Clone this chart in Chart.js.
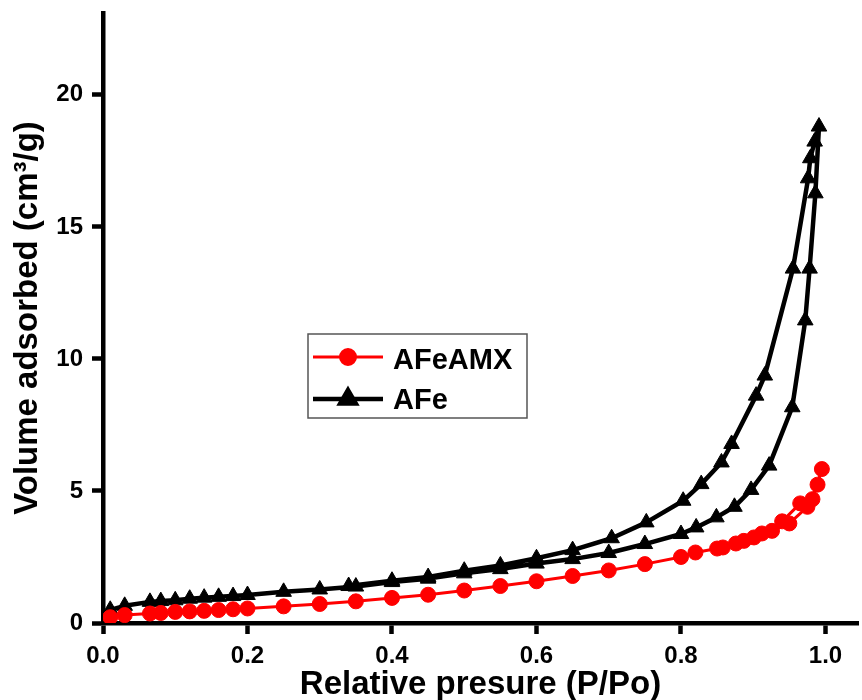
<!DOCTYPE html>
<html>
<head>
<meta charset="utf-8">
<script src="https://cdn.jsdelivr.net/npm/chart.js@4.4.1/dist/chart.umd.min.js"></script>
<style>
html,body{margin:0;padding:0;background:#ffffff;}
#wrap{width:862px;height:700px;position:relative;}
</style>
</head>
<body>
<div id="wrap"><canvas id="c" width="862" height="700"></canvas></div>
<script>
// ---- data ----
const seriesNames = ['AFeAMX', 'AFe'];

// AFeAMX: adsorption branch then desorption branch
const afeamxX = [0.01, 0.03, 0.065, 0.08, 0.10, 0.12, 0.14, 0.16, 0.18, 0.20, 0.25, 0.30, 0.35, 0.40, 0.45, 0.50, 0.55, 0.60, 0.65, 0.70, 0.75, 0.80, 0.82, 0.85, 0.876, 0.901, 0.926, 0.95, 0.975, 0.989, 0.995,
                 0.982, 0.965, 0.94, 0.912, 0.887, 0.858];
const afeamxY = [0.22, 0.30, 0.36, 0.38, 0.42, 0.44, 0.46, 0.49, 0.52, 0.55, 0.63, 0.72, 0.82, 0.95, 1.07, 1.23, 1.40, 1.58, 1.78, 1.99, 2.23, 2.50, 2.67, 2.82, 3.01, 3.24, 3.49, 3.77, 4.40, 5.24, 5.83,
                 4.69, 4.53, 3.85, 3.39, 3.11, 2.86];

// AFe: adsorption branch then desorption branch
const afeX = [0.01, 0.03, 0.065, 0.08, 0.10, 0.12, 0.14, 0.16, 0.18, 0.20, 0.25, 0.30, 0.35, 0.40, 0.45, 0.50, 0.55, 0.60, 0.65, 0.70, 0.75, 0.80, 0.821, 0.849, 0.874, 0.897, 0.922, 0.954, 0.972, 0.978, 0.986, 0.991,
              0.985, 0.979, 0.976, 0.955, 0.916, 0.904, 0.870, 0.856, 0.828, 0.803, 0.752, 0.704, 0.65, 0.60, 0.55, 0.50, 0.45, 0.40, 0.34];
const afeY = [0.50, 0.65, 0.80, 0.83, 0.86, 0.92, 0.96, 0.99, 1.02, 1.06, 1.18, 1.27, 1.38, 1.55, 1.68, 1.88, 2.04, 2.25, 2.42, 2.65, 2.99, 3.37, 3.62, 4.00, 4.40, 5.04, 5.96, 8.17, 11.46, 13.42, 16.27, 18.80,
              18.23, 17.60, 16.84, 13.42, 9.37, 8.61, 6.78, 6.08, 5.26, 4.63, 3.81, 3.21, 2.76, 2.45, 2.18, 1.98, 1.74, 1.60, 1.40];

const xTicks = [0.0, 0.2, 0.4, 0.6, 0.8, 1.0];
const yTicks = [0, 5, 10, 15, 20];
const xTitle = 'Relative presure (P/Po)';
const yTitle = 'Volume adsorbed (cm\u00B3/g)';

const FONT = '"Liberation Sans", Arial, Helvetica, sans-serif';

function pts(xs, ys) { return xs.map((x, i) => ({x: x, y: ys[i]})); }

const legendPlugin = {
  id: 'boxLegend',
  afterDraw(chart) {
    const ctx = chart.ctx;
    const box = {l: 308, t: 334, r: 527, b: 418};
    ctx.save();
    ctx.fillStyle = '#ffffff';
    ctx.fillRect(box.l, box.t, box.r - box.l, box.b - box.t);
    ctx.strokeStyle = '#555555';
    ctx.lineWidth = 1.5;
    ctx.strokeRect(box.l, box.t, box.r - box.l, box.b - box.t);
    const rows = [{y: 357, ty: 361}, {y: 399, ty: 401}];
    chart.data.datasets.forEach((ds, i) => {
      const row = rows[i];
      ctx.beginPath();
      ctx.strokeStyle = ds.borderColor;
      ctx.lineWidth = ds.borderWidth;
      ctx.moveTo(313, row.y);
      ctx.lineTo(383, row.y);
      ctx.stroke();
      ctx.fillStyle = ds.pointBackgroundColor;
      ctx.strokeStyle = ds.pointBorderColor;
      Chart.helpers.drawPoint(ctx, {pointStyle: ds.pointStyle, radius: ds.pointRadius, borderWidth: 1, rotation: 0}, 348, row.y);
      ctx.fillStyle = '#000000';
      ctx.font = 'bold 29px ' + FONT;
      ctx.textBaseline = 'middle';
      ctx.textAlign = 'left';
      ctx.fillText(ds.label, 393, row.ty);
    });
    ctx.restore();
  }
};

new Chart(document.getElementById('c'), {
  type: 'scatter',
  data: {
    datasets: [
      {
        label: seriesNames[0],
        data: pts(afeamxX, afeamxY),
        showLine: true,
        borderColor: '#ff0000',
        backgroundColor: '#ff0000',
        borderWidth: 3,
        borderJoinStyle: 'round',
        pointStyle: 'circle',
        pointRadius: 7.5,
        pointBackgroundColor: '#ff0000',
        pointBorderColor: '#ff0000',
        pointBorderWidth: 1,
        tension: 0,
        order: 0
      },
      {
        label: seriesNames[1],
        data: pts(afeX, afeY),
        showLine: true,
        borderColor: '#000000',
        backgroundColor: '#000000',
        borderWidth: 4.5,
        borderJoinStyle: 'round',
        pointStyle: 'triangle',
        pointRadius: 9,
        pointBackgroundColor: '#000000',
        pointBorderColor: '#000000',
        pointBorderWidth: 1,
        tension: 0,
        order: 1
      }
    ]
  },
  options: {
    responsive: false,
    animation: false,
    events: [],
    layout: {autoPadding: false, padding: {left: 0, right: 4, top: 13, bottom: 0}},
    plugins: {legend: {display: false}, tooltip: {enabled: false}},
    scales: {
      x: {
        type: 'linear',
        min: 0,
        max: 1.045,
        z: 1,
        afterBuildTicks: s => { s.ticks = xTicks.map(v => ({value: v})); },
        afterFit: s => { s.height = 77; s.paddingLeft = 0; s.paddingRight = 0; },
        border: {display: true, color: '#000000', width: 4.5},
        grid: {display: true, drawOnChartArea: false, drawTicks: true, tickLength: 11, tickWidth: 4.5, tickColor: '#000000', color: '#000000'},
        ticks: {
          color: '#000000',
          padding: 8,
          maxRotation: 0,
          font: {family: FONT, size: 24, weight: 'bold'},
          callback: v => Number(v).toFixed(1)
        },
        title: {display: true, text: xTitle, color: '#000000', padding: {top: 0, bottom: 0}, font: {family: FONT, size: 33, weight: 'bold', lineHeight: 0.9}}
      },
      y: {
        type: 'linear',
        min: 0,
        max: 23.1,
        z: 1,
        afterBuildTicks: s => { s.ticks = yTicks.map(v => ({value: v})); },
        afterFit: s => { s.width = 103; s.paddingTop = 0; s.paddingBottom = 0; },
        border: {display: true, color: '#000000', width: 4.5},
        grid: {display: true, drawOnChartArea: false, drawTicks: true, tickLength: 11, tickWidth: 4.5, tickColor: '#000000', color: '#000000'},
        ticks: {
          color: '#000000',
          padding: 9,
          font: {family: FONT, size: 24, weight: 'bold'},
          callback: v => String(v)
        },
        title: {display: true, text: yTitle, color: '#000000', padding: {top: 11, bottom: 0}, font: {family: FONT, size: 33, weight: 'bold', lineHeight: 1}}
      }
    }
  },
  plugins: [legendPlugin]
});
</script>
</body>
</html>
